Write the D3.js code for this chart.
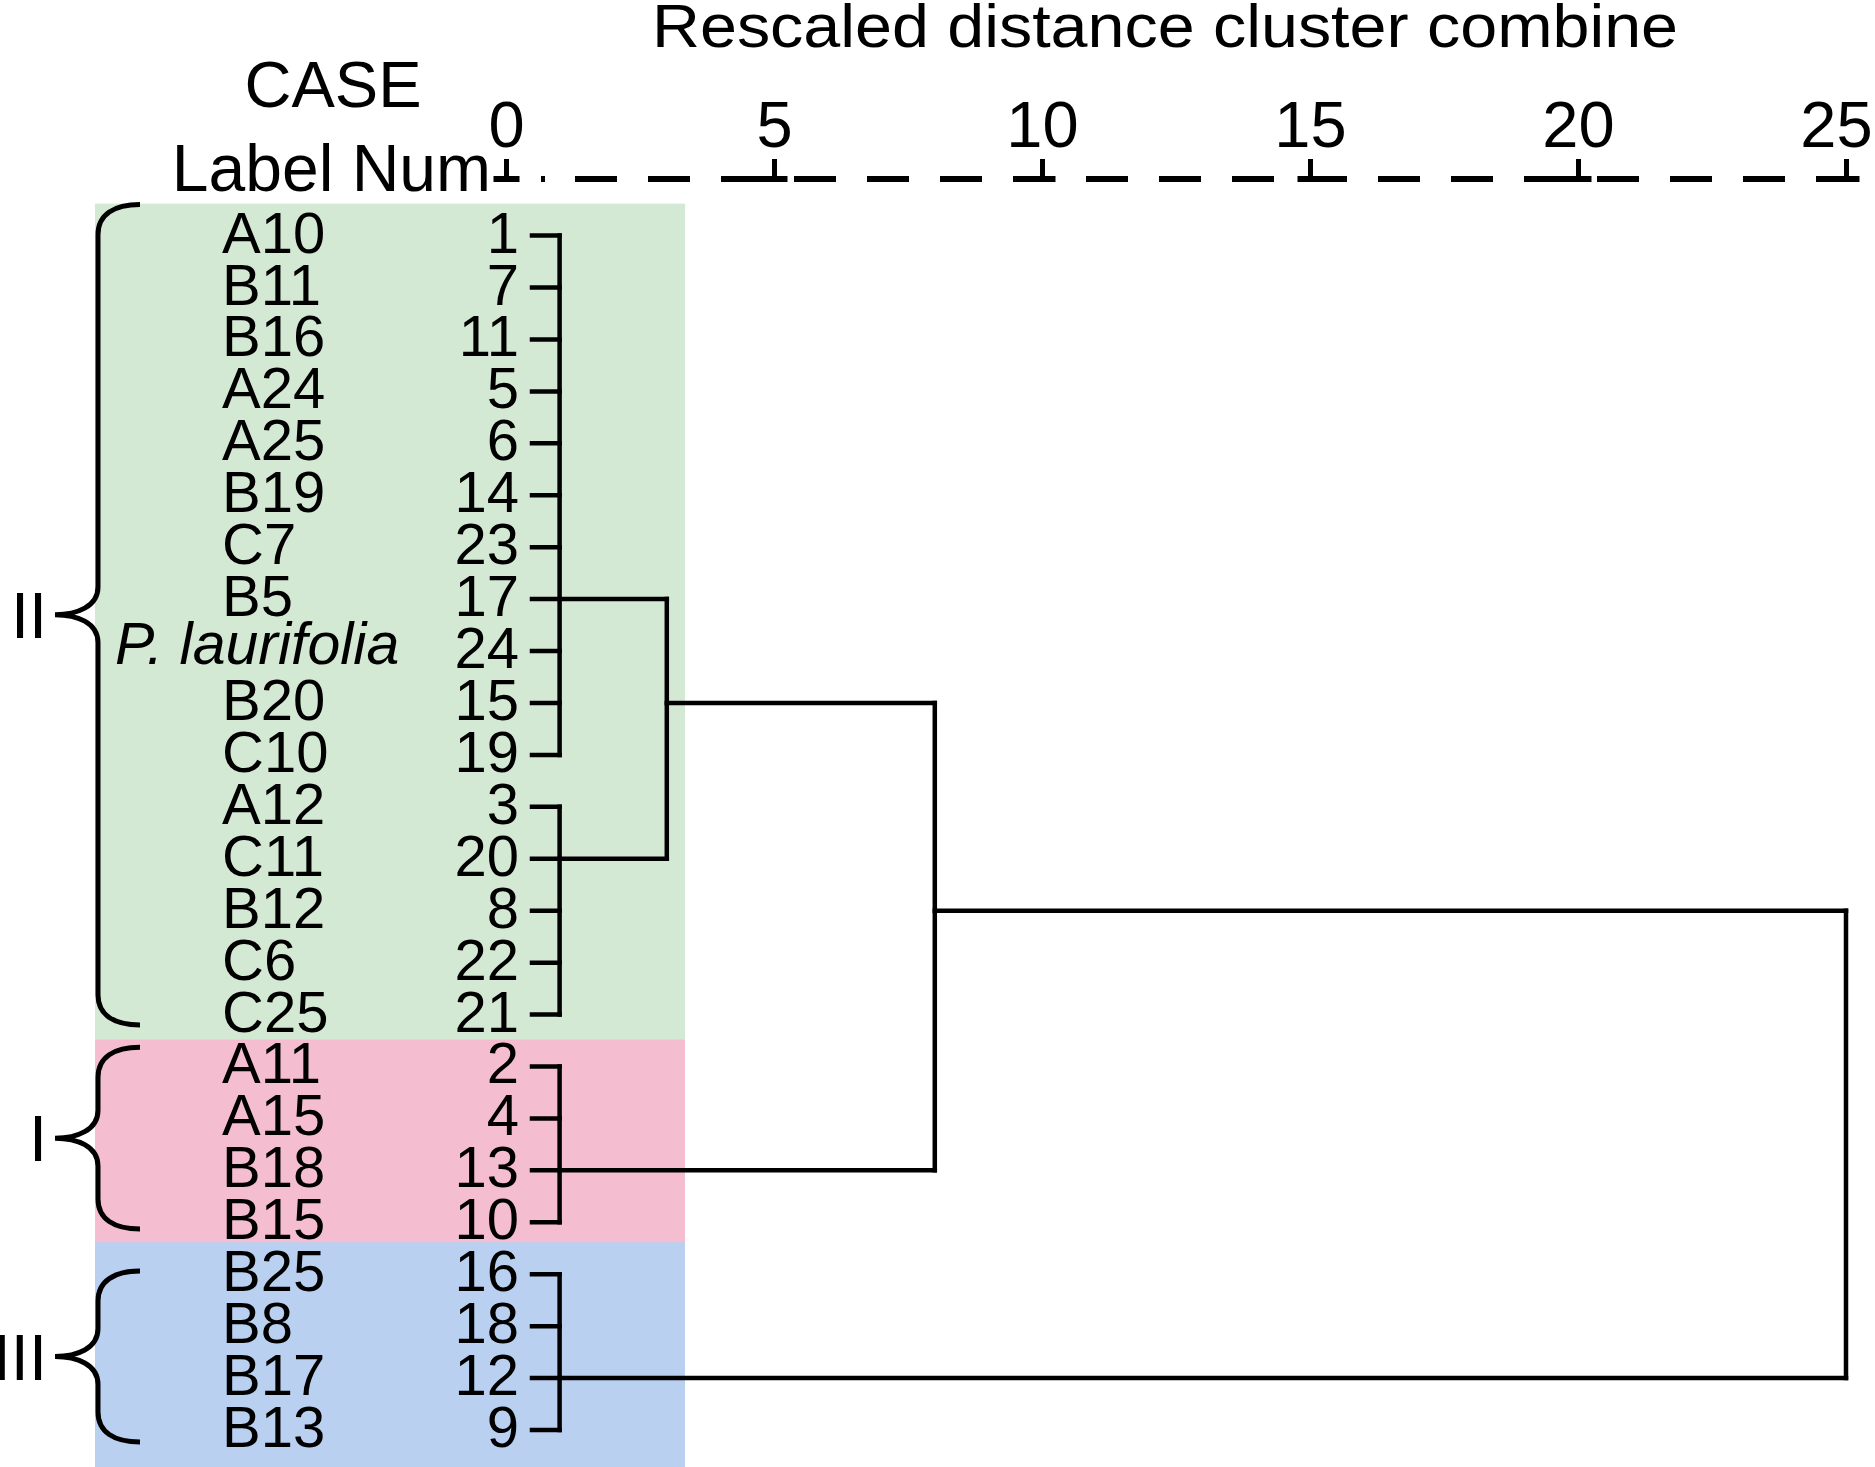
<!DOCTYPE html>
<html><head><meta charset="utf-8">
<script src="https://cdn.jsdelivr.net/npm/d3@7"></script>
<style>
body{margin:0;background:#fff}
svg{display:block;background:#fff}
text{font-family:"Liberation Sans",Arial,Helvetica,sans-serif;fill:#000}
</style>
</head><body>
<svg id="chart" width="1875" height="1467"></svg>
<script>
// ---- data ----
const leafLabels = ["A10","B11","B16","A24","A25","B19","C7","B5","P. laurifolia","B20","C10",
  "A12","C11","B12","C6","C25","A11","A15","B18","B15","B25","B8","B17","B13"];
const caseNumbers = [1,7,11,5,6,14,23,17,24,15,19,3,20,8,22,21,2,4,13,10,16,18,12,9];
const axisTicks = [0,5,10,15,20,25];
const groupNames = ["II","I","III"];
const groupFirstLeaf = [0,16,20];
const groupLastLeaf = [15,19,23];
const groupColors = ["#d4e9d4","#f4bdd0","#b9d0f1"];
const braceStartRow = [-0.6,15.63,19.94];
const braceEndRow = [15.2,19.13,23.23];
// leaf-level clusters
const leafClusterFirst = [0,11,16,20];
const leafClusterLast = [10,15,19,23];
const leafClusterDistance = [1,1,1,1];
const leafClusterOutRow = [7,12,18,22];
// higher-level merges (node ids: 0-3 leaf clusters, 4+ merges)
const mergeLeft = [0,4,5];
const mergeRight = [1,2,3];
const mergeDistance = [3,8,25];
const mergeOutRow = [9,13,null];

// ---- scales ----
const W = 1875, H = 1467;
const svg = d3.select("#chart");
const x = d3.scaleLinear().domain([0,25]).range([506,1846]);
const y = d3.scaleLinear().domain([0,23]).range([235.6,1430]);

// ---- backgrounds ----
const bgG = svg.append("g");
groupNames.forEach((g,i)=>{
  const top = y(groupFirstLeaf[i]) - 32;
  const bottom = i === groupNames.length-1 ? H : y(groupLastLeaf[i]) + 25;
  bgG.append("rect").attr("x",95).attr("y",top).attr("width",590).attr("height",bottom-top)
    .attr("fill",groupColors[i]);
});
bgG.select("rect").raise();

// ---- braces ----
function bracePath(top,bottom){
  const xs=98, xe=140, xp=55, mid=(top+bottom)/2, r=30, r2=28;
  return `M${xe},${top} C${xs+16},${top} ${xs},${top+10} ${xs},${top+r} L${xs},${mid-r2} `+
    `C${xs},${mid-8} ${xp+22},${mid} ${xp},${mid} C${xp+22},${mid} ${xs},${mid+8} ${xs},${mid+r2} `+
    `L${xs},${bottom-r} C${xs},${bottom-10} ${xs+16},${bottom} ${xe},${bottom}`;
}
groupNames.forEach((g,i)=>{
  const top=y(braceStartRow[i]), bottom=y(braceEndRow[i]);
  svg.append("path").attr("d",bracePath(top,bottom)).attr("fill","none")
    .attr("stroke","#000").attr("stroke-width",5);
  svg.append("text").attr("x",47).attr("y",(top+bottom)/2+23).attr("text-anchor","end")
    .attr("font-size",65).text(g);
});

// ---- headers ----
svg.append("text").attr("x",1165).attr("y",47).attr("text-anchor","middle")
  .attr("font-size",62).attr("textLength",1026).attr("lengthAdjust","spacingAndGlyphs")
  .text("Rescaled distance cluster combine");
svg.append("text").attr("x",333).attr("y",107).attr("text-anchor","middle")
  .attr("font-size",65).text("CASE");
svg.append("text").attr("x",491).attr("y",191).attr("text-anchor","end")
  .attr("font-size",66).text("Label Num");

// ---- axis ----
const axisY = 179;
const axisG = svg.append("g").attr("transform",`translate(0,${axisY})`)
  .call(d3.axisTop(x).tickValues(axisTicks).tickSize(20).tickPadding(12).tickFormat(d3.format("d")));
axisG.select(".domain").remove();
axisG.selectAll(".tick line").attr("y1",3).attr("y2",-20).attr("stroke","#000").attr("stroke-width",5);
axisG.selectAll(".tick text").attr("font-size",65).attr("font-family","'Liberation Sans',Arial,sans-serif")
  .attr("fill","#000").attr("dx",(d,i)=> i===axisTicks.length-1 ? -10 : 0);
axisG.selectAll(".tick").append("line").attr("x1",-13).attr("x2",13).attr("y1",0).attr("y2",0)
  .attr("stroke","#000").attr("stroke-width",6);
svg.append("line").attr("x1",x(0)+35).attr("x2",x(0)+39).attr("y1",axisY).attr("y2",axisY)
  .attr("stroke","#000").attr("stroke-width",6);
svg.append("line").attr("x1",x(0)+69).attr("x2",x(25)+14).attr("y1",axisY).attr("y2",axisY)
  .attr("stroke","#000").attr("stroke-width",6).attr("stroke-dasharray","42 31");

// ---- leaf labels ----
const rows = svg.append("g");
leafLabels.forEach((lab,i)=>{
  const italic = lab.startsWith("P.");
  rows.append("text").attr("x",italic?115:222).attr("y",y(i)+(italic?13:17))
    .attr("font-size",italic?59:58).attr("font-style",italic?"italic":"normal").text(lab);
  rows.append("text").attr("x",519).attr("y",y(i)+17).attr("text-anchor","end")
    .attr("font-size",58).text(caseNumbers[i]);
});

// ---- dendrogram ----
const dg = svg.append("g").attr("stroke","#000").attr("stroke-width",4.5)
  .attr("stroke-linecap","square").attr("fill","none");
const nodes = [];
leafClusterFirst.forEach((f,i)=>{
  nodes.push({dist:leafClusterDistance[i], outRow:leafClusterOutRow[i]});
  for(let r=f;r<=leafClusterLast[i];r++){
    dg.append("line").attr("x1",532).attr("x2",x(leafClusterDistance[i]))
      .attr("y1",y(r)).attr("y2",y(r));
  }
  dg.append("line").attr("x1",x(leafClusterDistance[i])).attr("x2",x(leafClusterDistance[i]))
    .attr("y1",y(f)).attr("y2",y(leafClusterLast[i]));
});
mergeLeft.forEach((l,j)=>{
  const d = mergeDistance[j];
  const L = nodes[l], R = nodes[mergeRight[j]];
  [L,R].forEach(c=>{
    dg.append("line").attr("x1",x(c.dist)).attr("x2",x(d)).attr("y1",y(c.outRow)).attr("y2",y(c.outRow));
  });
  dg.append("line").attr("x1",x(d)).attr("x2",x(d)).attr("y1",y(L.outRow)).attr("y2",y(R.outRow));
  nodes.push({dist:d, outRow:mergeOutRow[j]});
});
</script>
</body></html>
